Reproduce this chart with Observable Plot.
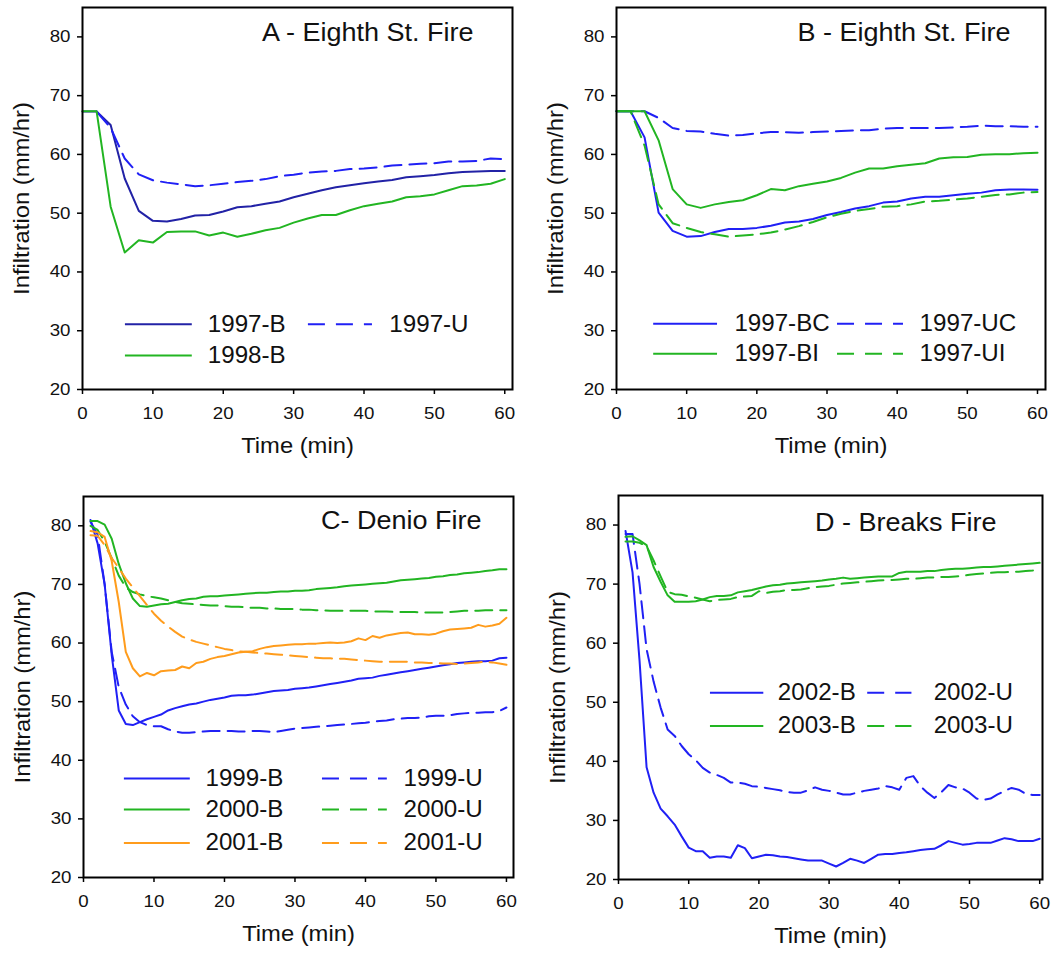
<!DOCTYPE html>
<html>
<head>
<meta charset="utf-8">
<script src="https://cdn.jsdelivr.net/npm/d3@7"></script>
<script src="https://cdn.jsdelivr.net/npm/@observablehq/plot@0.6"></script>
<style>
  html, body { margin: 0; padding: 0; background: #fff; }
  #wrap { position: relative; width: 1061px; height: 954px; background: #fff; }
  #wrap > div { position: absolute; }
  svg { overflow: visible; }
</style>
</head>
<body>
<div id="wrap"></div>
<script>
// ---------- DATA ----------
const xTicks = [0, 10, 20, 30, 40, 50, 60];
const yTicks = [20, 30, 40, 50, 60, 70, 80];

// Panels A and B: readings every 2 minutes
const timeAB = [0, 2, 4, 6, 8, 10, 12, 14, 16, 18, 20, 22, 24, 26, 28, 30, 32, 34, 36, 38, 40, 42, 44, 46, 48, 50, 52, 54, 56, 58, 60];

const a1997B = [67.3, 67.3, 65.0, 55.9, 50.4, 48.7, 48.6, 49.0, 49.6, 49.7, 50.3, 51.0, 51.2, 51.6, 52.0, 52.7, 53.3, 53.9, 54.4, 54.75, 55.1, 55.4, 55.65, 56.1, 56.3, 56.5, 56.8, 57.0, 57.1, 57.2, 57.2];
const a1997U = [null, 67.3, 64.5, 59.3, 56.6, 55.6, 55.2, 54.9, 54.6, 54.75, 55.0, 55.3, 55.5, 55.8, 56.3, 56.55, 56.9, 57.1, 57.2, 57.5, 57.6, 57.8, 58.1, 58.25, 58.4, 58.5, 58.8, 58.8, 58.9, 59.3, 59.2];
const a1998B = [67.35, 67.35, 51.1, 43.3, 45.4, 45.0, 46.8, 46.9, 46.9, 46.2, 46.7, 46.0, 46.5, 47.1, 47.5, 48.4, 49.1, 49.7, 49.7, 50.5, 51.2, 51.6, 52.0, 52.7, 52.9, 53.2, 53.9, 54.6, 54.7, 55.0, 55.8];

const b1997BC = [67.35, 67.35, 62.9, 50.1, 47.0, 46.0, 46.1, 46.8, 47.3, 47.3, 47.5, 47.85, 48.4, 48.6, 49.0, 49.7, 50.2, 50.8, 51.2, 51.8, 52.0, 52.5, 52.8, 52.8, 53.05, 53.3, 53.5, 53.9, 54.05, 54.05, 54.0];
const b1997UC = [67.35, 67.35, 67.35, 66.2, 64.5, 64.0, 63.9, 63.5, 63.2, 63.3, 63.6, 63.8, 63.8, 63.7, 63.8, 63.9, 64.0, 64.1, 64.1, 64.4, 64.5, 64.5, 64.5, 64.5, 64.6, 64.7, 64.9, 64.8, 64.8, 64.7, 64.7];
const b1997BI = [67.35, 67.35, 67.35, 62.4, 54.1, 51.5, 50.9, 51.5, 51.9, 52.2, 53.05, 54.1, 53.9, 54.6, 55.0, 55.4, 56.0, 56.9, 57.6, 57.6, 58.0, 58.25, 58.5, 59.3, 59.5, 59.55, 59.95, 60.05, 60.05, 60.2, 60.3];
const b1997UI = [67.35, 67.35, 61.5, 51.5, 48.3, 47.5, 46.8, 46.4, 46.0, 46.2, 46.4, 46.7, 47.2, 47.8, 48.5, 49.3, 49.9, 50.4, 50.7, 51.1, 51.2, 51.5, 52.0, 52.1, 52.3, 52.5, 52.8, 53.1, 53.2, 53.5, 53.6];

// Panels C and D: readings every minute
const timeCD = [1, 2, 3, 4, 5, 6, 7, 8, 9, 10, 11, 12, 13, 14, 15, 16, 17, 18, 19, 20, 21, 22, 23, 24, 25, 26, 27, 28, 29, 30, 31, 32, 33, 34, 35, 36, 37, 38, 39, 40, 41, 42, 43, 44, 45, 46, 47, 48, 49, 50, 51, 52, 53, 54, 55, 56, 57, 58, 59, 60];

const c1999B = [81.0, 77.0, 70.0, 58.0, 48.5, 46.2, 46.0, 46.5, 47.0, 47.4, 47.8, 48.5, 48.9, 49.2, 49.5, 49.7, 50.0, 50.3, 50.5, 50.7, 51.0, 51.1, 51.1, 51.2, 51.4, 51.6, 51.8, 51.9, 52.0, 52.2, 52.3, 52.4, 52.6, 52.8, 53.0, 53.2, 53.4, 53.6, 53.9, 54.0, 54.1, 54.4, 54.6, 54.8, 55.0, 55.2, 55.4, 55.6, 55.8, 56.0, 56.2, 56.4, 56.6, 56.7, 56.8, 56.9, 56.9, 57.0, 57.4, 57.5];
const c1999U = [80.7, 78.5, 70.0, 58.5, 52.5, 49.5, 47.5, 46.5, 46.0, 45.8, 45.8, 45.3, 44.9, 44.7, 44.7, 44.8, 44.9, 45.0, 45.0, 45.0, 45.0, 44.9, 44.9, 45.0, 45.0, 44.9, 44.8, 45.0, 45.2, 45.4, 45.5, 45.6, 45.7, 45.8, 45.9, 46.0, 46.1, 46.2, 46.3, 46.4, 46.6, 46.7, 46.8, 47.0, 47.1, 47.2, 47.2, 47.3, 47.5, 47.6, 47.6, 47.7, 47.9, 48.0, 48.1, 48.1, 48.2, 48.2, 48.4, 49.0];
const c2000B = [80.8, 80.8, 80.2, 77.8, 73.5, 70.2, 67.6, 66.3, 66.2, 66.4, 66.6, 66.7, 67.0, 67.3, 67.5, 67.6, 67.9, 68.0, 68.0, 68.1, 68.2, 68.3, 68.4, 68.5, 68.6, 68.6, 68.7, 68.8, 68.8, 68.9, 68.9, 69.0, 69.2, 69.3, 69.4, 69.5, 69.7, 69.8, 69.9, 70.0, 70.1, 70.2, 70.3, 70.5, 70.7, 70.8, 70.9, 71.0, 71.1, 71.3, 71.4, 71.6, 71.7, 71.9, 72.0, 72.1, 72.3, 72.4, 72.6, 72.6];
const c2000U = [80.0, 79.3, 77.3, 74.5, 71.5, 69.5, 68.7, 68.3, 68.0, 67.8, 67.6, 67.3, 67.0, 66.8, 66.7, 66.6, 66.5, 66.4, 66.4, 66.3, 66.2, 66.2, 66.1, 66.0, 66.0, 65.9, 65.9, 65.8, 65.8, 65.8, 65.7, 65.7, 65.6, 65.6, 65.5, 65.5, 65.5, 65.5, 65.5, 65.5, 65.4, 65.4, 65.4, 65.3, 65.3, 65.3, 65.3, 65.2, 65.2, 65.2, 65.2, 65.3, 65.4, 65.5, 65.5, 65.5, 65.6, 65.6, 65.6, 65.6];
const c2001B = [79.1, 78.9, 78.1, 74.0, 67.0, 58.5, 55.7, 54.3, 54.9, 54.5, 55.2, 55.3, 55.4, 56.0, 55.7, 56.6, 56.8, 57.3, 57.6, 57.8, 58.1, 58.4, 58.5, 58.6, 59.0, 59.3, 59.5, 59.6, 59.7, 59.8, 59.8, 59.9, 59.9, 60.0, 60.1, 60.0, 60.1, 60.3, 60.8, 60.5, 61.2, 60.9, 61.3, 61.5, 61.7, 61.8, 61.5, 61.5, 61.4, 61.6, 62.0, 62.3, 62.4, 62.5, 62.6, 63.1, 62.8, 63.0, 63.3, 64.3];
const c2001U = [78.4, 78.3, 76.7, 74.5, 72.8, 71.0, 69.5, 68.0, 66.5, 65.0, 63.8, 62.8, 61.9, 61.1, 60.6, 60.2, 59.9, 59.6, 59.3, 59.0, 58.8, 58.6, 58.5, 58.4, 58.3, 58.2, 58.1, 58.0, 57.9, 57.8, 57.7, 57.6, 57.5, 57.4, 57.4, 57.3, 57.3, 57.2, 57.1, 57.0, 56.9, 56.8, 56.8, 56.8, 56.8, 56.8, 56.7, 56.7, 56.6, 56.6, 56.5, 56.5, 56.4, 56.5, 56.6, 56.7, 56.8, 56.7, 56.5, 56.3];

const d2002B = [79.0, 72.0, 57.0, 39.0, 34.7, 32.0, 30.7, 29.3, 27.3, 25.4, 24.8, 24.8, 23.7, 23.9, 23.9, 23.7, 25.8, 25.3, 23.6, 23.9, 24.2, 24.1, 23.9, 23.8, 23.6, 23.4, 23.2, 23.2, 23.2, 22.7, 22.2, 22.8, 23.5, 23.2, 22.8, 23.5, 24.2, 24.3, 24.3, 24.5, 24.6, 24.8, 25.0, 25.1, 25.2, 25.8, 26.5, 26.2, 25.9, 26.0, 26.2, 26.2, 26.2, 26.6, 27.0, 26.8, 26.5, 26.5, 26.5, 26.9];
const d2002U = [78.5, 78.5, 70.0, 59.0, 53.5, 49.1, 45.4, 44.3, 42.6, 41.2, 40.2, 38.9, 38.1, 37.7, 37.2, 36.4, 36.4, 36.2, 35.8, 35.7, 35.5, 35.3, 35.1, 34.8, 34.7, 34.7, 35.1, 35.6, 35.2, 35.0, 34.7, 34.4, 34.4, 34.7, 35.0, 35.2, 35.4, 35.8, 35.6, 35.2, 37.2, 37.5, 35.8, 34.7, 33.8, 34.8, 36.0, 35.6, 35.4, 34.7, 33.7, 33.5, 33.7, 34.4, 35.0, 35.5, 35.2, 34.5, 34.3, 34.3];
const d2003B = [78.0, 78.1, 77.4, 76.6, 72.9, 70.4, 68.1, 67.0, 67.0, 67.0, 67.1, 67.4, 67.8, 68.0, 68.0, 68.1, 68.6, 68.8, 69.0, 69.3, 69.6, 69.8, 69.9, 70.1, 70.2, 70.3, 70.4, 70.5, 70.6, 70.8, 70.9, 71.1, 70.9, 71.0, 71.1, 71.2, 71.3, 71.3, 71.3, 71.9, 72.1, 72.1, 72.1, 72.2, 72.2, 72.4, 72.5, 72.6, 72.6, 72.7, 72.8, 72.9, 72.9, 73.0, 73.1, 73.2, 73.3, 73.4, 73.5, 73.6];
const d2003U = [77.2, 77.2, 77.0, 76.4, 74.0, 71.3, 68.7, 68.3, 68.2, 67.9, 67.7, 67.4, 67.1, 67.3, 67.4, 67.5, 67.8, 67.9, 68.0, 68.8, 68.5, 68.7, 68.8, 69.0, 69.0, 69.1, 69.3, 69.5, 69.6, 69.7, 69.9, 70.1, 70.2, 70.3, 70.4, 70.5, 70.6, 70.7, 70.7, 70.8, 70.9, 70.9, 71.0, 71.1, 71.1, 71.2, 71.2, 71.3, 71.4, 71.6, 71.7, 71.8, 71.9, 72.0, 72.0, 72.1, 72.1, 72.2, 72.3, 72.5];

// ---------- STYLE / LAYOUT ----------
const NAVY = "#2222a6", BLUE = "#2020f5", GREEN = "#22b522", ORANGE = "#ff9c1c";
const DASH = "17,8";
const FONT = "'Liberation Sans', Arial, Helvetica, sans-serif";

const panels = [
  {
    title: "A - Eighth St. Fire", left: 0, top: 0, width: 530, height: 465,
    m: [7, 18, 76, 82], xMax: 61.1, titleDx: -39, titleDy: 25,
    time: timeAB,
    series: [
      {name: "1997-B", values: a1997B, color: NAVY, dashed: false, col: 0, row: 0},
      {name: "1997-U", values: a1997U, color: BLUE, dashed: true, col: 1, row: 0},
      {name: "1998-B", values: a1998B, color: GREEN, dashed: false, col: 0, row: 1}
    ],
    legRows: [31.1, 25.8], legCols: [[6.1, 15.6, 17.8], [32.1, 41.2, 43.6]]
  },
  {
    title: "B - Eighth St. Fire", left: 530, top: 0, width: 531, height: 465,
    m: [7, 16, 76, 86], xMax: 61.14, titleDx: -35, titleDy: 25,
    time: timeAB,
    series: [
      {name: "1997-BC", values: b1997BC, color: BLUE, dashed: false, col: 0, row: 0},
      {name: "1997-UC", values: b1997UC, color: BLUE, dashed: true, col: 1, row: 0},
      {name: "1997-BI", values: b1997BI, color: GREEN, dashed: false, col: 0, row: 1},
      {name: "1997-UI", values: b1997UI, color: GREEN, dashed: true, col: 1, row: 1}
    ],
    legRows: [31.2, 26.1], legCols: [[5.3, 14.4, 16.8], [31.5, 40.9, 43.2]]
  },
  {
    title: "C- Denio Fire", left: 0, top: 470, width: 530, height: 484,
    m: [26, 17, 77, 83], xMax: 61.0, titleDx: -32, titleDy: 24,
    time: timeCD,
    series: [
      {name: "1999-B", values: c1999B, color: BLUE, dashed: false, col: 0, row: 0},
      {name: "1999-U", values: c1999U, color: BLUE, dashed: true, col: 1, row: 0},
      {name: "2000-B", values: c2000B, color: GREEN, dashed: false, col: 0, row: 1},
      {name: "2000-U", values: c2000U, color: GREEN, dashed: true, col: 1, row: 1},
      {name: "2001-B", values: c2001B, color: ORANGE, dashed: false, col: 0, row: 2},
      {name: "2001-U", values: c2001U, color: ORANGE, dashed: true, col: 1, row: 2}
    ],
    legRows: [36.9, 31.6, 25.9], legCols: [[5.8, 15.15, 17.3], [33.9, 43.1, 45.4]]
  },
  {
    title: "D - Breaks Fire", left: 530, top: 470, width: 531, height: 484,
    m: [25, 19, 75, 88], xMax: 60.4, titleDx: -46, titleDy: 27,
    time: timeCD,
    series: [
      {name: "2002-B", values: d2002B, color: BLUE, dashed: false, col: 0, row: 0},
      {name: "2002-U", values: d2002U, color: BLUE, dashed: true, col: 1, row: 0},
      {name: "2003-B", values: d2003B, color: GREEN, dashed: false, col: 0, row: 1},
      {name: "2003-U", values: d2003U, color: GREEN, dashed: true, col: 1, row: 1}
    ],
    legRows: [51.6, 46.0], legCols: [[13.1, 20.7, 22.7], [35.5, 41.8, 44.9]]
  }
];

function makePanel(p) {
  const marks = [];
  for (const s of p.series) {
    const rows = p.time.map((t, i) => ({t, v: s.values[i]}));
    marks.push(Plot.line(rows, {
      x: "t", y: "v", stroke: s.color, strokeWidth: 2,
      strokeDasharray: s.dashed ? DASH : null
    }));
  }
  // legend
  for (const s of p.series) {
    const c = p.legCols[s.col], yv = p.legRows[s.row];
    marks.push(Plot.ruleY([yv], {
      x1: c[0], x2: c[1], stroke: s.color, strokeWidth: 2,
      strokeDasharray: s.dashed ? "17,11" : null
    }));
    marks.push(Plot.text([s.name], {
      x: c[2], y: yv, text: d => d, textAnchor: "start", lineAnchor: "middle",
      fontSize: 23, fill: "#111", className: "leg"
    }));
  }
  marks.push(
    Plot.axisX({ticks: xTicks, tickSize: 5, tickPadding: 12, label: null, fontSize: 17, stroke: "black", strokeWidth: 1.5, tickFormat: d => d}),
    Plot.axisY({ticks: yTicks, tickSize: 5, tickPadding: 7, label: null, fontSize: 17, stroke: "black", strokeWidth: 1.5, tickFormat: d => d}),
    Plot.frame({stroke: "black", strokeWidth: 2}),
    Plot.text([p.title], {frameAnchor: "top-right", text: d => d, textAnchor: "end", lineAnchor: "middle", dx: p.titleDx, dy: p.titleDy, fontSize: 25, fill: "#111"}),
    Plot.text(["Time (min)"], {frameAnchor: "bottom", text: d => d, lineAnchor: "middle", dy: 56, fontSize: 22, fill: "#111"}),
    Plot.text(["Infiltration (mm/hr)"], {frameAnchor: "left", text: d => d, rotate: -90, lineAnchor: "middle", textAnchor: "middle", dx: -61, fontSize: 22, fill: "#111"})
  );
  return Plot.plot({
    width: p.width, height: p.height,
    marginTop: p.m[0], marginRight: p.m[1], marginBottom: p.m[2], marginLeft: p.m[3],
    x: {domain: [0, p.xMax], axis: null},
    y: {domain: [20, 85], axis: null},
    style: {fontFamily: FONT, background: "white", color: "#111", overflow: "visible"},
    marks
  });
}

const wrap = document.getElementById("wrap");
for (const p of panels) {
  const div = document.createElement("div");
  div.style.left = p.left + "px";
  div.style.top = p.top + "px";
  div.style.width = p.width + "px";
  div.style.height = p.height + "px";
  const svg = makePanel(p);
  div.appendChild(svg);
  wrap.appendChild(div);
  // widen glyphs slightly to match the reference's broader lettering
  svg.querySelectorAll("text").forEach(el => {
    const g = el.closest("g[aria-label]");
    const lab = g ? g.getAttribute("aria-label") : "";
    const isLeg = !!el.closest(".leg");
    const f = /tick label/.test(lab) ? 1.1 : (isLeg ? 1.05 : 1.08);
    const w = el.getComputedTextLength();
    if (w > 0) {
      el.setAttribute("textLength", (w * f).toFixed(1));
      el.setAttribute("lengthAdjust", "spacingAndGlyphs");
    }
  });
}
</script>
</body>
</html>
